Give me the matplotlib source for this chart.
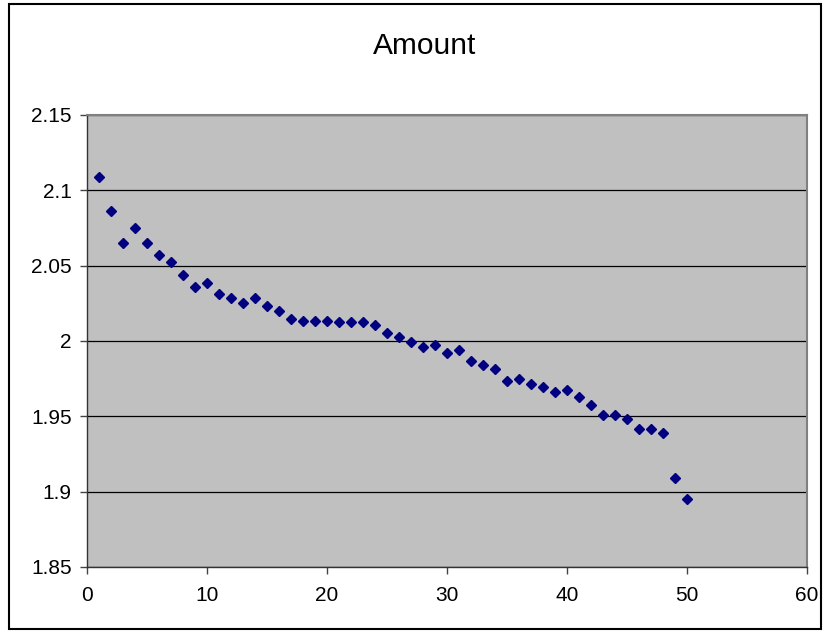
import matplotlib
matplotlib.use("Agg")
import matplotlib.pyplot as plt
from matplotlib.patches import Rectangle

# x values (sample number) and amounts
days = list(range(1, 51))
amount = [2.1088, 2.0860, 2.0653, 2.0753, 2.0653, 2.0569, 2.0523, 2.0436, 2.0360, 2.0385,
          2.0309, 2.0285, 2.0253, 2.0285, 2.0231, 2.0200, 2.0145, 2.0133, 2.0133, 2.0133,
          2.0126, 2.0126, 2.0126, 2.0106, 2.0051, 2.0026, 1.9995, 1.9962, 1.9974, 1.9921,
          1.9940, 1.9866, 1.9841, 1.9812, 1.9737, 1.9748, 1.9715, 1.9693, 1.9660, 1.9675,
          1.9627, 1.9572, 1.9512, 1.9512, 1.9480, 1.9414, 1.9414, 1.9387, 1.9093, 1.8952]

xticks = [0, 10, 20, 30, 40, 50, 60]
yticks = [1.85, 1.9, 1.95, 2.0, 2.05, 2.1, 2.15]
ylabels = ['1.85', '1.9', '1.95', '2', '2.05', '2.1', '2.15']

plt.rcParams['font.family'] = ['Liberation Sans', 'DejaVu Sans']

fig = plt.figure(figsize=(8.24, 6.32), dpi=100)
fig.patch.set_facecolor('white')

# outer chart border
fig.patches.append(Rectangle((9 / 824, 3 / 632), 812 / 824, 625 / 632,
                             transform=fig.transFigure, fill=False,
                             edgecolor='black', linewidth=1.5))

ax = fig.add_axes([87 / 824, 65 / 632, 720 / 824, 452 / 632])
ax.set_facecolor('#C0C0C0')
ax.plot(days, amount, linestyle='none', marker='D', markersize=5,
        color='#000080', markeredgecolor='#000080', zorder=3)

ax.set_xlim(0, 60)
ax.set_ylim(1.85, 2.15)
ax.set_xticks(xticks)
ax.set_yticks(yticks)
ax.set_yticklabels(ylabels)
ax.yaxis.grid(True, color='black', linewidth=0.9)
ax.set_axisbelow(True)
ax.tick_params(axis='both', direction='out', length=5, width=1, color='#444444',
               labelsize=15)
ax.tick_params(axis='x', pad=9)
ax.tick_params(axis='y', pad=6)

for side in ['top', 'right']:
    ax.spines[side].set_color('#808080')
    ax.spines[side].set_linewidth(1.5)
for side in ['left', 'bottom']:
    ax.spines[side].set_color('#333333')
    ax.spines[side].set_linewidth(1)

fig.text(425 / 824, 1 - 54 / 632, 'Amount', ha='center', va='baseline', fontsize=21.5)

fig.savefig('out.png', dpi=100)
